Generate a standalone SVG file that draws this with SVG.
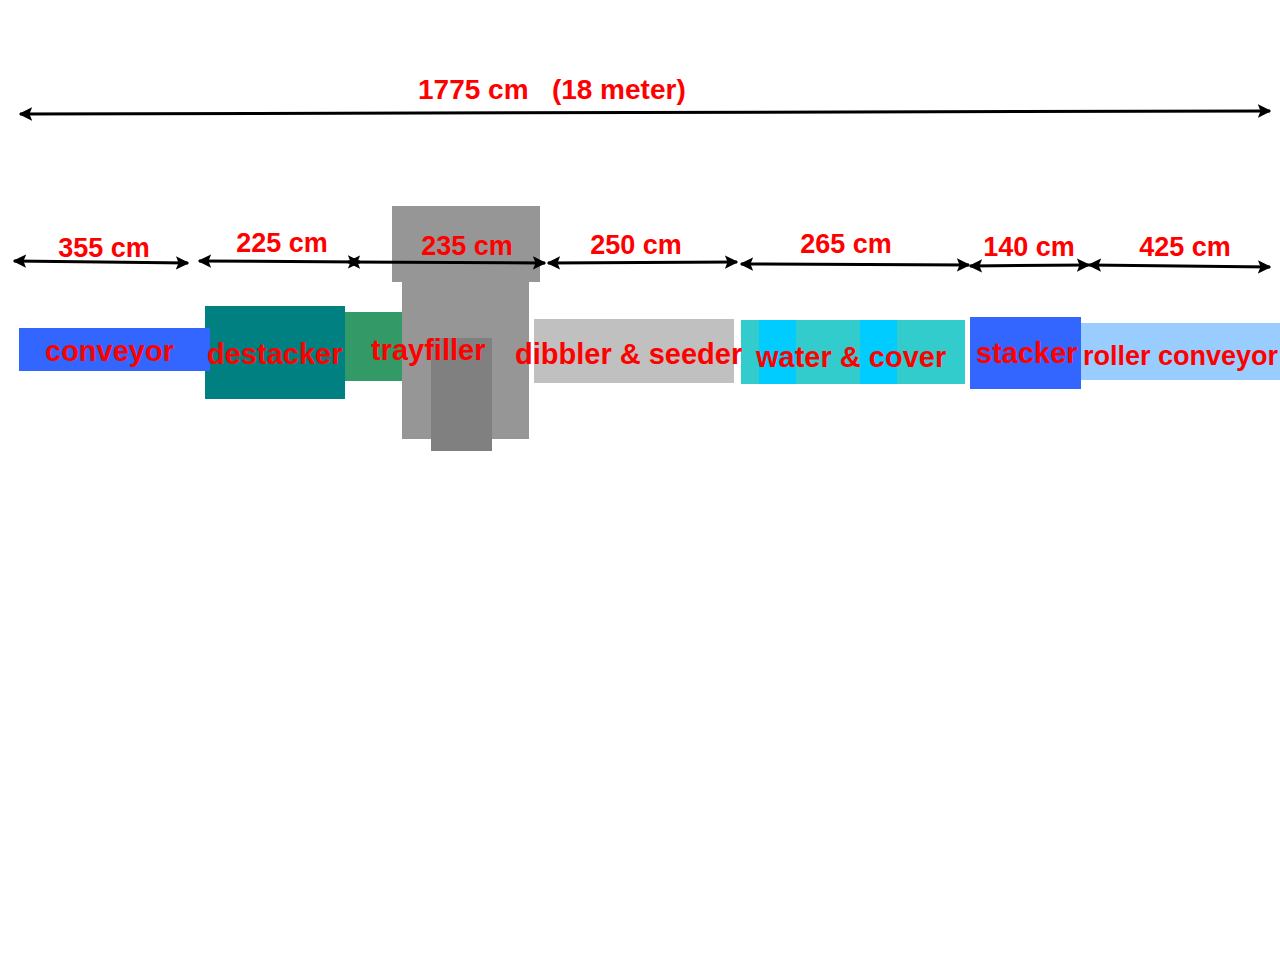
<svg xmlns="http://www.w3.org/2000/svg" width="1280" height="960" viewBox="0 0 1280 960">
<defs>
<marker id="ah" viewBox="0 0 10 10" refX="9" refY="5" markerWidth="4.5" markerHeight="4.5" orient="auto-start-reverse" markerUnits="strokeWidth">
<path d="M0,0 L10,5 L0,10 L2,5 Z" fill="#000"/>
</marker>
</defs>
<style>
.dim{stroke:#000;stroke-width:3;fill:none;marker-start:url(#ah);marker-end:url(#ah)}
.t{font-family:"Liberation Sans",Arial,sans-serif;font-weight:bold;font-size:27px;fill:#FF0000}
.n{font-size:29px}
.top{font-size:28px}
.m{text-anchor:middle}
</style>
<rect width="1280" height="960" fill="#fff"/>
<g id="nodes">
<g id="destacker"><rect x="205" y="306" width="140" height="93" fill="#008080"/></g>
<g id="conveyor"><rect x="19" y="328" width="191" height="43" fill="#3366FF"/></g>
<g id="trayfiller">
<rect x="345" y="312" width="57" height="69" fill="#339966"/>
<rect x="392" y="206" width="148" height="76" fill="#969696"/>
<rect x="402" y="281" width="127" height="158" fill="#969696"/>
<rect x="431" y="338" width="61" height="113" fill="#808080"/>
</g>
<g id="dibbler"><rect x="534" y="319" width="200" height="64" fill="#C0C0C0"/></g>
<g id="water">
<rect x="741" y="320" width="224" height="64" fill="#33CCCC"/>
<rect x="759" y="320" width="37" height="64" fill="#00CCFF"/>
<rect x="860" y="320" width="37" height="64" fill="#00CCFF"/>
</g>
<g id="stacker"><rect x="970" y="317" width="111" height="72" fill="#3366FF"/></g>
<g id="roller"><rect x="1081" y="323" width="199" height="57" fill="#99CCFF"/></g>
</g>
<g id="connectors">
<line class="dim" x1="20" y1="114" x2="1270" y2="111"/>
<line class="dim" x1="14" y1="261" x2="188" y2="263"/>
<line class="dim" x1="199" y1="261" x2="360" y2="262"/>
<line class="dim" x1="348" y1="262" x2="545" y2="263"/>
<line class="dim" x1="548" y1="263" x2="737" y2="262"/>
<line class="dim" x1="741" y1="264" x2="969" y2="265"/>
<line class="dim" x1="970" y1="266" x2="1089" y2="265"/>
<line class="dim" x1="1089" y1="265" x2="1270" y2="267"/>
</g>
<g id="labels">
<text class="t top" x="418" y="99" xml:space="preserve">1775 cm   (18 meter)</text>
<text class="t m" x="104" y="257">355 cm</text>
<text class="t m" x="282" y="252">225 cm</text>
<text class="t m" x="467" y="255">235 cm</text>
<text class="t m" x="636" y="254">250 cm</text>
<text class="t m" x="846" y="253">265 cm</text>
<text class="t m" x="1029" y="256">140 cm</text>
<text class="t m" x="1185" y="256">425 cm</text>
<text class="t n" x="45" y="361">conveyor</text>
<text class="t n" x="207" y="364">destacker</text>
<text class="t n" x="371" y="360">trayfiller</text>
<text class="t n" x="515" y="364">dibbler &amp; seeder</text>
<text class="t n" x="756" y="367">water &amp; cover</text>
<text class="t n" x="976" y="363">stacker</text>
<text class="t" x="1083" y="365">roller conveyor</text>
</g>
</svg>
